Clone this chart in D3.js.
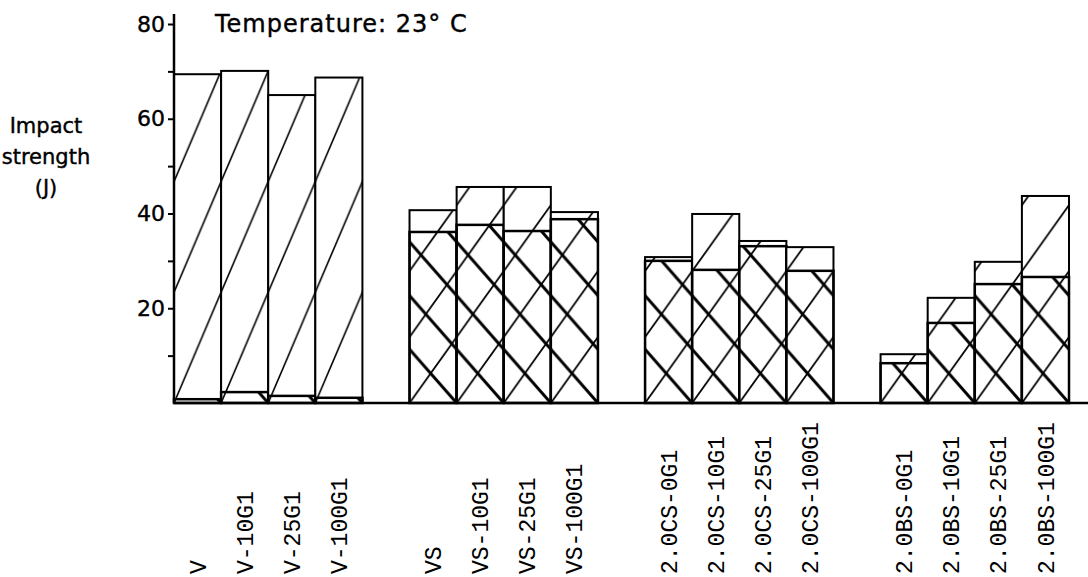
<!DOCTYPE html>
<html>
<head>
<meta charset="utf-8">
<script src="https://cdn.jsdelivr.net/npm/d3@7"></script>
<style>
  body { margin: 0; background: #fff; }
  svg { display: block; }
</style>
</head>
<body>
<div id="chart"></div>
<script>
// Impact strength at 23 C
const groups = ["V", "VS", "2.0CS", "2.0BS"];
const samples = ["V", "V-10G1", "V-25G1", "V-100G1",
                 "VS", "VS-10G1", "VS-25G1", "VS-100G1",
                 "2.0CS-0G1", "2.0CS-10G1", "2.0CS-25G1", "2.0CS-100G1",
                 "2.0BS-0G1", "2.0BS-10G1", "2.0BS-25G1", "2.0BS-100G1"];
const sampleGroup = ["V", "V", "V", "V",
                     "VS", "VS", "VS", "VS",
                     "2.0CS", "2.0CS", "2.0CS", "2.0CS",
                     "2.0BS", "2.0BS", "2.0BS", "2.0BS"];
// total bar height (J) and the cross-hatched lower part (J)
const totalStrength = [69.4, 70.1, 65.0, 68.7, 40.7, 45.6, 45.6, 40.3, 30.8, 39.9, 34.2, 32.9, 10.3, 22.2, 29.8, 43.7];
const lowerStrength = [0.8, 2.3, 1.5, 1.1, 36.1, 37.6, 36.3, 38.8, 30.0, 28.1, 33.1, 27.9, 8.4, 16.9, 25.1, 26.6];
const yTicks = [10, 20, 30, 40, 50, 60, 70, 80];
const yTickLabels = [20, 40, 60, 80];
const yTitle = ["Impact", "strength", "(J)"];
const title = "Temperature: 23\u00B0 C";

const width = 1088, height = 577;
const sansFont = "'DejaVu Sans', sans-serif";
const monoFont = "'Liberation Mono', monospace";

const svg = d3.select("#chart").append("svg")
	.attr("width", width)
	.attr("height", height);

const y = d3.scaleLinear().domain([0, 80]).range([403, 24]);

const xGroup = d3.scaleBand()
	.domain(groups)
	.range([174, 1069])
	.paddingInner(0.2)
	.paddingOuter(0);

const xBar = d3.scaleBand()
	.domain([0, 1, 2, 3])
	.range([0, xGroup.bandwidth()])
	.padding(0);

const bars = samples.map((name, i) =>
{
	const group = sampleGroup[i];
	const idx = sampleGroup.slice(0, i).filter(g => g === group).length;
	return { name, group, idx, total: totalStrength[i], lower: lowerStrength[i] };
});

// hatch patterns, one pair per group so the lines start at the bar corners
const defs = svg.append("defs");
const bw = xBar.bandwidth();

function hatch(id, x0, slope, dir, sw)
{
	const w = bw, h = bw * slope;
	const p = defs.append("pattern")
		.attr("id", id)
		.attr("patternUnits", "userSpaceOnUse")
		.attr("width", w)
		.attr("height", h)
		.attr("patternTransform", `translate(${x0},${y(0)})`);
	let d = "";
	[-w, 0, w].forEach(c =>
	{
		if (dir === "fwd") d += `M${c - w},${2 * h}L${c + 2 * w},${-h}`;
		else d += `M${c - w},${-h}L${c + 2 * w},${2 * h}`;
	});
	p.append("path")
		.attr("d", d)
		.attr("stroke", "#000")
		.attr("stroke-width", sw)
		.attr("fill", "none");
}

groups.forEach((g, gi) =>
{
	const x0 = xGroup(g);
	hatch("fwd" + gi, x0, gi === 0 ? 2.35 : 1.4, "fwd", gi === 0 ? 1.6 : 1.8);
	hatch("bck" + gi, x0, 1.14, "bck", 3);
});

const barG = svg.append("g");

bars.forEach(d =>
{
	const gi = groups.indexOf(d.group);
	const bx = xGroup(d.group) + xBar(d.idx);
	const g = barG.append("g");

	g.append("rect")
		.attr("x", bx).attr("y", y(d.total))
		.attr("width", bw).attr("height", y(0) - y(d.total))
		.attr("fill", "#fff");

	g.append("rect")
		.attr("x", bx).attr("y", y(d.total))
		.attr("width", bw).attr("height", y(0) - y(d.total))
		.attr("fill", `url(#fwd${gi})`);

	g.append("rect")
		.attr("x", bx).attr("y", y(d.lower))
		.attr("width", bw).attr("height", y(0) - y(d.lower))
		.attr("fill", `url(#bck${gi})`)
		.attr("stroke", "#000")
		.attr("stroke-width", 2.5);

	g.append("rect")
		.attr("x", bx).attr("y", y(d.total))
		.attr("width", bw).attr("height", y(0) - y(d.total))
		.attr("fill", "none")
		.attr("stroke", "#000")
		.attr("stroke-width", 2);
});

// axes
const axisX = xGroup(groups[0]);

const yAxis = svg.append("g")
	.attr("transform", `translate(${axisX},0)`)
	.call(d3.axisLeft(y)
		.tickValues(yTicks)
		.tickSize(6)
		.tickPadding(3)
		.tickFormat(d => yTickLabels.includes(d) ? d : ""));
yAxis.select(".domain").remove();
yAxis.selectAll(".tick line").attr("stroke", "#000").attr("stroke-width", 2);
yAxis.selectAll(".tick text")
	.attr("fill", "#000")
	.attr("stroke", "#000")
	.attr("stroke-width", 0.4)
	.style("font-family", sansFont)
	.style("font-size", "22px");

svg.append("line")
	.attr("x1", axisX).attr("x2", axisX)
	.attr("y1", y(0)).attr("y2", y(80) - 10)
	.attr("stroke", "#000")
	.attr("stroke-width", 2.5);

svg.append("line")
	.attr("x1", axisX).attr("x2", width)
	.attr("y1", y(0)).attr("y2", y(0))
	.attr("stroke", "#000")
	.attr("stroke-width", 2.5);

// sample labels, rotated
svg.append("g").selectAll("text")
	.data(bars)
	.enter().append("text")
	.attr("transform", d => `translate(${xGroup(d.group) + xBar(d.idx) + bw / 2},574) rotate(-90)`)
	.attr("dy", "0.35em")
	.attr("text-anchor", "start")
	.style("font-family", monoFont)
	.style("font-size", "23px")
	.attr("fill", "#000")
	.text(d => d.name);

// y title
svg.append("g").selectAll("text")
	.data(yTitle)
	.enter().append("text")
	.attr("x", 46)
	.attr("y", (d, i) => 133 + i * 31)
	.attr("text-anchor", "middle")
	.attr("stroke", "#000")
	.attr("stroke-width", 0.4)
	.style("font-family", sansFont)
	.style("font-size", "21px")
	.attr("fill", "#000")
	.text(d => d);

svg.append("text")
	.attr("x", 215)
	.attr("y", 32)
	.attr("stroke", "#000")
	.attr("stroke-width", 0.4)
	.style("font-family", sansFont)
	.style("font-size", "24px")
	.style("letter-spacing", "1px")
	.attr("fill", "#000")
	.text(title);
</script>
</body>
</html>
